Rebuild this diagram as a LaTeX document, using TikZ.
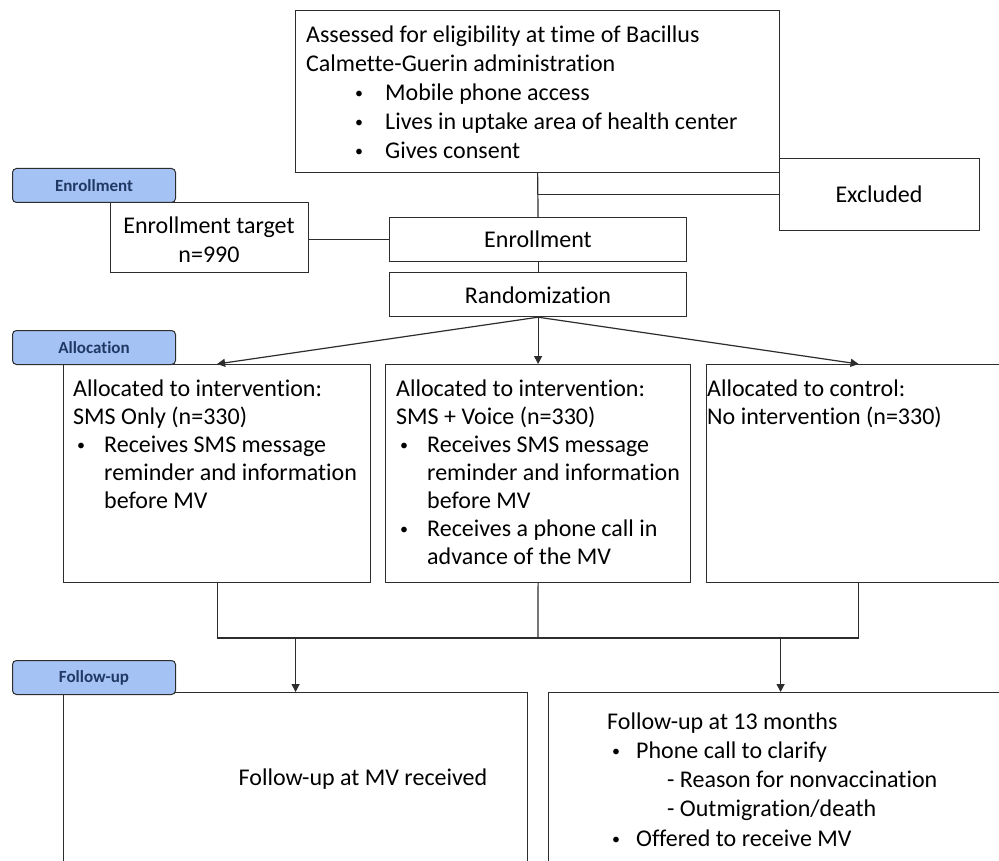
\documentclass[tikz,border=0pt]{standalone}
\usepackage{fontspec}
\setmainfont{Carlito}[Ligatures=NoCommon]
\usetikzlibrary{arrows.meta}
\definecolor{lblfill}{RGB}{164,194,244}
\definecolor{lbltext}{RGB}{32,56,100}
\definecolor{edge}{RGB}{45,45,45}
\tikzset{
  box/.style={draw=edge, line width=1.2pt, fill=white, rectangle, inner sep=0pt, anchor=north west},
  lbl/.style={draw=edge, line width=1pt, fill=lblfill, rounded corners=4pt, minimum width=163pt, minimum height=34pt, anchor=north west, inner sep=0pt, font=\fontsize{17}{19}\selectfont\bfseries, text=lbltext},
  txt/.style={anchor=base west, inner sep=0pt, yshift=-1.5pt, font=\fontsize{24}{29}\selectfont},
  ctxt/.style={anchor=base, inner sep=0pt, yshift=-1.5pt, font=\fontsize{24}{29}\selectfont},
  bul/.style={anchor=base west, inner sep=0pt, yshift=0.5pt, font=\fontsize{16}{19}\selectfont},
  conn/.style={draw=edge, line width=1.2pt},
  arr/.style={conn, -{Triangle[width=8pt,length=8pt]}}
}
\begin{document}
\begin{tikzpicture}[x=1pt,y=-1pt]
\clip (0,0) rectangle (999,861);
\fill[white] (0,0) rectangle (999,861);
% boxes
\node[box, minimum width=484pt, minimum height=162pt] (top) at (295,10) {};
\node[box, minimum width=200pt, minimum height=72pt] (excl) at (779,158) {};
\node[box, minimum width=198pt, minimum height=70pt] (tgt) at (110,202) {};
\node[box, minimum width=297pt, minimum height=44pt] (enr) at (389,217) {};
\node[box, minimum width=297pt, minimum height=44pt] (rnd) at (389,272) {};
\node[box, minimum width=307pt, minimum height=218pt] (a1) at (63,364) {};
\node[box, minimum width=305pt, minimum height=218pt] (a2) at (385,364) {};
\node[box, minimum width=304pt, minimum height=218pt] (a3) at (706,364) {};
\node[box, minimum width=464pt, minimum height=200pt] (f1) at (63,692) {};
\node[box, minimum width=464pt, minimum height=200pt] (f2) at (548,692) {};
% connectors
\coordinate (mj) at (538,638);
\draw[conn] (top.south) -- (enr.north);
\draw[conn] (top.south |- excl.west) -- (excl.west);
\draw[conn] (tgt.east |- enr.west) -- (enr.west);
\draw[conn] (enr.south) -- (rnd.north);
\draw[arr] (rnd.south) -- (a1.north);
\draw[arr] (rnd.south) -- (a2.north);
\draw[arr] (rnd.south) -- (a3.north);
\draw[conn] (a1.south) |- (mj) -| (a3.south);
\draw[conn] (a2.south) -- (mj);
\draw[arr] (f1.north |- mj) -- (f1.north);
\draw[arr] (f2.north |- mj) -- (f2.north);
% labels
\node[lbl] (lE) at (12,168) {Enrollment};
\node[lbl] (lA) at (12,330) {Allocation};
\node[lbl] (lF) at (12,660) {Follow-up};
% texts: top
\node[txt] (t1) at (306,41) {Assessed for eligibility at time of Bacillus};
\node[txt] (t2) at (306,70) {Calmette-Guerin administration};
\node[bul] (b1) at (355,99) {•};
\node[txt] (t3) at (385,99) {Mobile phone access};
\node[bul] (b2) at (355,128) {•};
\node[txt] (t4) at (385,128) {Lives in uptake area of health center};
\node[bul] (b3) at (355,157) {•};
\node[txt] (t5) at (385,157) {Gives consent};
\node[ctxt] (tx) at (879,201) {Excluded};
\node[ctxt] (tg1) at (209,232) {Enrollment target};
\node[ctxt] (tg2) at (209,261) {n=990};
\node[ctxt] (te) at (538,246) {Enrollment};
\node[ctxt] (tr) at (538,302) {Randomization};
% allocation 1
\node[txt] (p1) at (73,395) {Allocated to intervention:};
\node[txt] (p2) at (73,423) {SMS Only (n=330)};
\node[bul] (pb1) at (77,451) {•};
\node[txt] (p3) at (104,451) {Receives SMS message};
\node[txt] (p4) at (104,479) {reminder and information};
\node[txt] (p5) at (104,507) {before MV};
% allocation 2
\node[txt] (q1) at (396,395) {Allocated to intervention:};
\node[txt] (q2) at (396,423) {SMS + Voice (n=330)};
\node[bul] (qb1) at (400,451) {•};
\node[txt] (q3) at (427,451) {Receives SMS message};
\node[txt] (q4) at (427,479) {reminder and information};
\node[txt] (q5) at (427,507) {before MV};
\node[bul] (qb2) at (400,535) {•};
\node[txt] (q6) at (427,535) {Receives a phone call in};
\node[txt] (q7) at (427,563) {advance of the MV};
% allocation 3
\node[txt] (r1) at (707,395) {Allocated to control:};
\node[txt] (r2) at (707,423) {No intervention (n=330)};
% follow-up
\node[ctxt] (s1) at (363,784) {Follow-up at MV received};
\node[txt] (u1) at (607,728) {Follow-up at 13 months};
\node[bul] (ub1) at (612,757) {•};
\node[txt] (u2) at (636,757) {Phone call to clarify};
\node[txt] (u3) at (667,786) {- Reason for nonvaccination};
\node[txt] (u4) at (667,815) {- Outmigration/death};
\node[bul] (ub2) at (612,845) {•};
\node[txt] (u5) at (636,845) {Offered to receive MV};
\end{tikzpicture}
\end{document}
